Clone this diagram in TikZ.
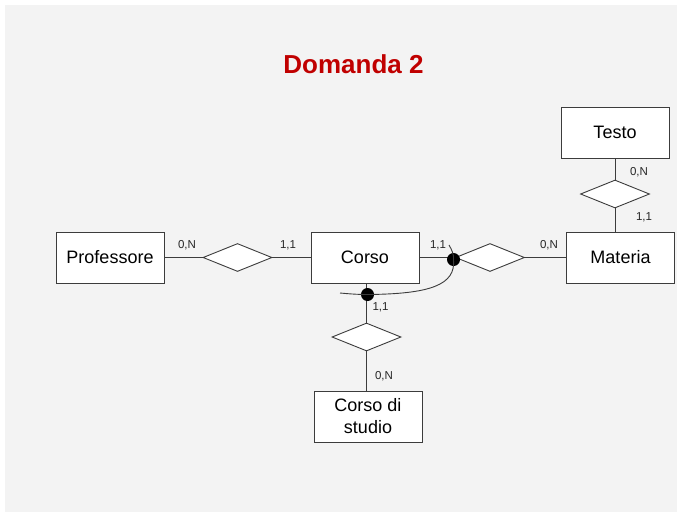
\documentclass[tikz,border=0pt]{standalone}
\usepackage{fontspec}
\setmainfont{Liberation Sans}
\usetikzlibrary{shapes.geometric}
\definecolor{bggray}{RGB}{243,243,243}
\definecolor{titlered}{RGB}{192,0,0}
\definecolor{linegray}{RGB}{60,60,60}
\begin{document}
\begin{tikzpicture}[x=1pt,y=-1pt,
  entity/.style={draw=linegray,line width=0.9pt,fill=white,minimum width=108pt,minimum height=51pt,inner sep=0pt,font=\fontsize{18}{22}\selectfont,align=center},
  relation/.style={draw=linegray,line width=0.9pt,fill=white,diamond,minimum width=69pt,minimum height=28pt,inner sep=0pt},
  card/.style={font=\fontsize{11.5}{13}\selectfont,inner sep=0pt,text=black!85},
  conn/.style={draw=linegray,line width=0.9pt},
  joint/.style={circle,fill=black,minimum size=13pt,inner sep=0pt}]
\useasboundingbox (0,0) rectangle (677,512);
\fill[white] (0,0) rectangle (677,512);
\fill[bggray] (5,5) rectangle (677,512);

\node[font=\fontsize{26}{30}\selectfont\bfseries,text=titlered] (title) at (353.5,64) {Domanda 2};

\node[entity] (prof) at (110,257.5) {Professore};
\node[entity] (corso) at (365,257.5) {Corso};
\node[entity] (mat) at (620.5,257.5) {Materia};
\node[entity] (testo) at (615,132.5) {Testo};
\node[entity] (cds) at (368,416.5) {Corso di\\studio};

\node[relation] (r1) at (237.5,257.5) {};
\node[relation] (r2) at (490,257.5) {};
\node[relation] (r3) at (615,194) {};
\node[relation] (r4) at (366.5,337) {};

\draw[conn] (prof.east) -- (r1.west);
\draw[conn] (r1.east) -- (corso.west);
\draw[conn] (corso.east) -- (r2.west);
\draw[conn] (r2.east) -- (mat.west);
\draw[conn] (testo.south) -- (r3.north);
\draw[conn] (r3.south) -- (r3.south |- mat.north);
\draw[conn] (r4.north |- corso.south) -- (r4.north);
\draw[conn] (r4.south) -- (r4.south |- cds.north);

\coordinate (cstart) at (449,245);
\coordinate (cend) at (340,293);
\node[joint] (j1) at (453.5,259.5) {};
\node[joint] (j2) at (367.5,294.5) {};
\draw[conn] (cstart) .. controls (452,250) and (454,255) .. (j1.center)
  .. controls (456,285) and (430,294) .. (j2.center)
  .. controls (355,294.5) and (346,293.5) .. (cend);

\node[card] (c1) at (187,245) {0,N};
\node[card] (c2) at (288,245) {1,1};
\node[card] (c3) at (438,245) {1,1};
\node[card] (c4) at (549,245) {0,N};
\node[card] (c5) at (639,172) {0,N};
\node[card] (c6) at (644,217) {1,1};
\node[card] (c7) at (380.5,307) {1,1};
\node[card] (c8) at (384,376) {0,N};
\end{tikzpicture}
\end{document}
